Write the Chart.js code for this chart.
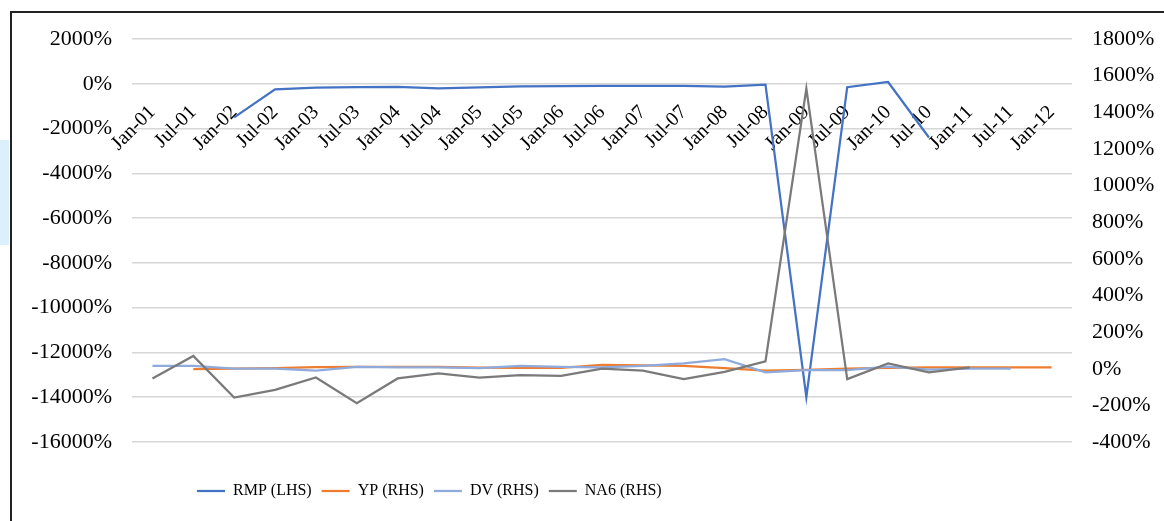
<!DOCTYPE html>
<html>
<head>
<meta charset="utf-8">
<script src="https://cdn.jsdelivr.net/npm/chart.js@4.4.1/dist/chart.umd.min.js"></script>
<style>
  html, body { margin: 0; padding: 0; background: #fff; overflow: hidden; }
  #wrap { position: relative; width: 1164px; height: 521px; }
  #frame { position: absolute; left: 10px; top: 11px; width: 1200px; height: 560px; border-left: 2px solid #222; border-top: 2px solid #222; box-sizing: border-box; pointer-events: none; }
  #artifact { position: absolute; left: 0; top: 140px; width: 9px; height: 105px; background: #dcf0fb; }
  canvas { position: absolute; left: 0; top: 0; }
</style>
</head>
<body>
<div id="wrap">
  <div id="artifact"></div>
  <canvas id="c" width="1164" height="521"></canvas>
  <div id="frame"></div>
</div>
<script>
const categories = ['Jan-01','Jul-01','Jan-02','Jul-02','Jan-03','Jul-03','Jan-04','Jul-04','Jan-05','Jul-05','Jan-06','Jul-06','Jan-07','Jul-07','Jan-08','Jul-08','Jan-09','Jul-09','Jan-10','Jul-10','Jan-11','Jul-11','Jan-12'];

const rmp = [null, null, -1500, -250, -170, -150, -140, -200, -160, -120, -110, -90, -90, -90, -130, -40, -14000, -150, 80, -2400, null, null, null];
const yp  = [null, -2, 0, 3, 9, 10, 10, 10, 6, 5, 5, 21, 18, 16, 3, -11, -6, 0, 5, 7, 7, 7, 7];
const dv  = [16, 16, 0, 0, -11, 10, 7, 7, 3, 16, 10, 7, 16, 29, 52, -20, -8, -8, 12, -5, 0, 0, null];
const na6 = [-53, 70, -157, -115, -48, -188, -53, -26, -48, -35, -39, 0, -11, -57, -17, 40, 1530, -57, 29, -20, 7, null, null];

const leftTicks = { min: -16000, max: 2000, step: 2000 };
const rightTicks = { min: -400, max: 1800, step: 200 };

const serif = '"Liberation Serif", "Times New Roman", serif';
Chart.defaults.color = '#000';
Chart.defaults.font.family = serif;

const legendMover = {
  id: 'legendMover',
  afterLayout(chart) {
    const lg = chart.legend;
    if (!lg) return;
    const w = lg.right - lg.left;
    lg.left = 187;
    lg.right = 187 + w;
    const h = lg.bottom - lg.top;
    lg.top = 473;
    lg.bottom = 473 + h;
  }
};

function ds(label, data, color, axis, order) {
  return {
    label, data, borderColor: color, backgroundColor: color,
    borderWidth: 2.25, pointRadius: 0, tension: 0, yAxisID: axis,
    order, fill: false
  };
}

new Chart(document.getElementById('c'), {
  type: 'line',
  data: {
    labels: categories,
    datasets: [
      ds('RMP (LHS)', rmp, '#4472c4', 'y', 3),
      ds('YP (RHS)', yp, '#ed7d31', 'y1', 2),
      ds('DV (RHS)', dv, '#8faadc', 'y1', 1),
      ds('NA6 (RHS)', na6, '#7a7a7a', 'y1', 0)
    ]
  },
  options: {
    responsive: false,
    animation: false,
    devicePixelRatio: 1,
    layout: { padding: { left: 0, right: 0, top: 39, bottom: 43 } },
    plugins: {
      tooltip: { enabled: false },
      legend: {
        position: 'bottom',
        align: 'start',
        labels: {
          usePointStyle: true,
          pointStyle: 'line',
          pointStyleWidth: 28,
          padding: 10,
          color: '#000',
          font: { family: serif, size: 16 },
          sort: (a, b) => a.datasetIndex - b.datasetIndex
        }
      }
    },
    scales: {
      x: {
        type: 'category',
        position: { y: 0 },
        offset: true,
        grid: { display: false, drawTicks: false },
        border: { display: false },
        ticks: {
          autoSkip: false,
          minRotation: 45,
          maxRotation: 45,
          padding: 17,
          color: '#000',
          font: { family: serif, size: 20 }
        }
      },
      y: {
        type: 'linear',
        position: 'left',
        min: leftTicks.min,
        max: leftTicks.max,
        afterFit(s) { s.width = 132; },
        grid: { color: '#d6d6d6', lineWidth: 1.5, drawTicks: false },
        border: { display: false },
        ticks: {
          stepSize: leftTicks.step,
          maxTicksLimit: 30,
          padding: 20,
          color: '#000',
          font: { family: serif, size: 22 },
          callback: v => v + '%'
        }
      },
      y1: {
        type: 'linear',
        position: 'right',
        min: rightTicks.min,
        max: rightTicks.max,
        afterFit(s) { s.width = 92; },
        grid: { display: false, drawTicks: false },
        border: { display: false },
        ticks: {
          stepSize: rightTicks.step,
          maxTicksLimit: 30,
          padding: 20,
          color: '#000',
          font: { family: serif, size: 22 },
          callback: v => v + '%'
        }
      }
    }
  },
  plugins: [legendMover]
});
</script>
</body>
</html>
